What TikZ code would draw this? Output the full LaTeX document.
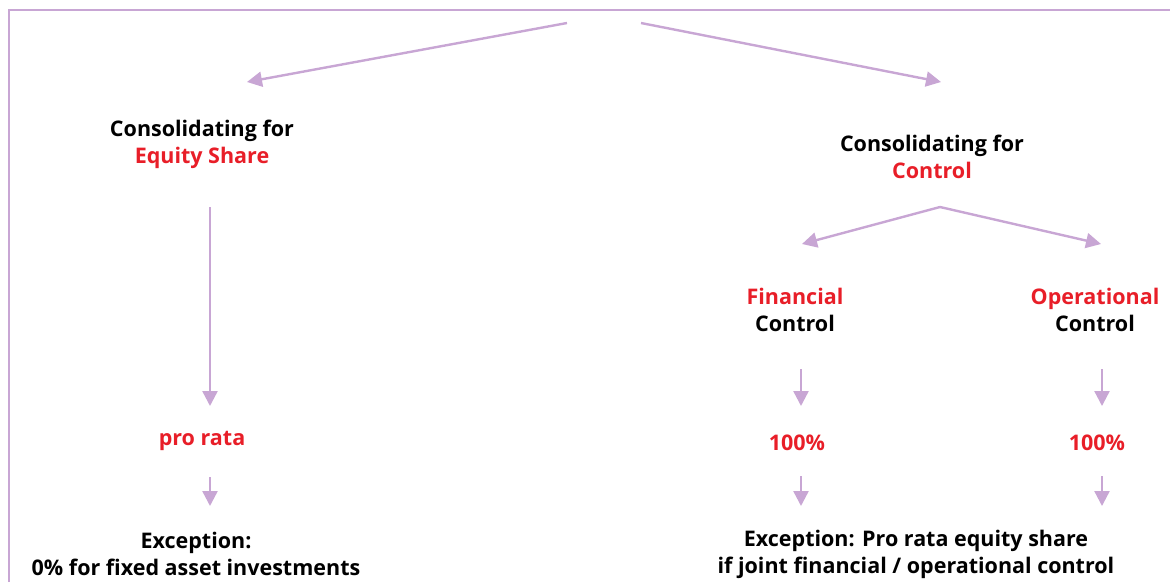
\documentclass[tikz,border=0pt]{standalone}
\usepackage{fontspec}
\setmainfont{Open Sans}
\usetikzlibrary{arrows.meta}
\definecolor{lilac}{RGB}{200,166,212}
\definecolor{hired}{RGB}{232,30,40}
\tikzset{
  conn/.style={draw=lilac, line width=2.4pt, -{Triangle[length=15pt,width=15pt]}},
  lbl/.style={align=center, font=\fontsize{21.5}{27}\selectfont\bfseries, inner sep=0pt, text=black},
}
\newcommand{\hl}[1]{\textcolor{hired}{#1}}
\begin{document}
\begin{tikzpicture}[x=1pt,y=-1pt]
\useasboundingbox (0,0) rectangle (1170,582);
% frame
\draw[lilac, line width=1.3pt] (9,582) -- (9,10) -- (1170,10);
% nodes
\node[lbl] (eq) at (202,144) {Consolidating for\\\hl{Equity Share}};
\node[lbl] (ct) at (932,157) {Consolidating for\\\hl{Control}};
\node[lbl] (pr) at (202,441) {\hl{pro rata}};
\node[lbl] (ex1) at (196,554) {Exception:\\0\% for fixed asset investments};
\node[lbl] (fc) at (795,310) {\hl{Financial}\\Control};
\node[lbl] (oc) at (1095,310) {\hl{Operational}\\Control};
\node[lbl] (p1) at (797,443) {\hl{100\%}};
\node[lbl] (p2) at (1097,443) {\hl{100\%}};
\node[lbl] (ex2) at (916,554) {Exception: Pro rata equity share\\if joint financial / operational control};
% coordinates
\coordinate (tl) at (567,23);
\coordinate (tr) at (641,23);
\coordinate (eqa) at (247,82);
\coordinate (cta) at (941,82);
\coordinate (eqb) at (210,207);
\coordinate (pra) at (210,406);
\coordinate (prb) at (210,477);
\coordinate (exa1) at (210,506);
\coordinate (ctb) at (940,207);
\coordinate (fca) at (802,244);
\coordinate (oca) at (1101,244);
\coordinate (fcb) at (801,369);
\coordinate (p1a) at (801,406);
\coordinate (ocb) at (1102,369);
\coordinate (p2a) at (1102,406);
\coordinate (p1b) at (801,476);
\coordinate (e2a) at (801,506);
\coordinate (p2b) at (1102,476);
\coordinate (e2b) at (1102,506);
% connectors
\draw[conn] (tl) -- (eqa);
\draw[conn] (tr) -- (cta);
\draw[conn] (eqb) -- (pra);
\draw[conn] (prb) -- (exa1);
\draw[conn] (ctb) -- (fca);
\draw[conn] (ctb) -- (oca);
\draw[conn] (fcb) -- (p1a);
\draw[conn] (ocb) -- (p2a);
\draw[conn] (p1b) -- (e2a);
\draw[conn] (p2b) -- (e2b);
\end{tikzpicture}
\end{document}
